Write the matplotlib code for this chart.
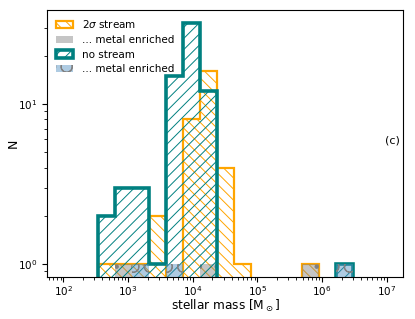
import numpy as np
import matplotlib
matplotlib.use("Agg")
import matplotlib.pyplot as plt

# bins: 19 log-spaced bins between 1e2 and 1e7 Msun
edges = np.logspace(2, 7, 20)

# counts per bin
n_stream = [0, 0, 1, 1, 1, 2, 0, 8, 16, 4, 1, 0, 0, 0, 1, 0, 0, 0, 0]
n_stream_metal = [0, 0, 0, 1, 0, 0, 0, 0, 1, 0, 0, 0, 0, 0, 1, 0, 0, 0, 0]
n_nostream = [0, 0, 2, 3, 3, 1, 15, 32, 12, 0, 0, 0, 0, 0, 0, 0, 1, 0, 0]
n_nostream_metal = [0, 0, 0, 0, 1, 0, 1, 0, 0, 0, 0, 0, 0, 0, 0, 0, 1, 0, 0]

plt.rcParams['hatch.linewidth'] = 0.7
plt.rcParams['font.size'] = 8
plt.rcParams['xtick.labelsize'] = 7.5
plt.rcParams['ytick.labelsize'] = 7.5
plt.rcParams['xtick.major.pad'] = 2

fig = plt.figure(figsize=(4.15, 3.19), dpi=100)
ax = fig.add_axes([0.114, 0.132, 0.857, 0.837])

centers = edges[:-1]

ax.hist(centers, bins=edges, weights=n_stream, histtype='stepfilled', log=True,
        facecolor='none', edgecolor='orange', lw=1.6, hatch='\\\\\\',
        label=r'2$\sigma$ stream')
ax.hist(centers, bins=edges, weights=n_stream_metal, histtype='stepfilled', log=True,
        facecolor=(0.5, 0.5, 0.5, 0.45), edgecolor='grey', lw=0, hatch='.',
        label='... metal enriched')
ax.hist(centers, bins=edges, weights=n_nostream, histtype='stepfilled', log=True,
        facecolor='none', edgecolor='teal', lw=2.6, hatch='///',
        label='no stream')
ax.hist(centers, bins=edges, weights=n_nostream_metal, histtype='stepfilled', log=True,
        facecolor=(0.3, 0.55, 0.75, 0.45), edgecolor='grey', lw=0, hatch='O',
        label='... metal enriched')

ax.set_xscale('log')
ax.set_xlim(10**1.75, 10**7.25)
ax.set_ylim(0.83, 38.7)

ax.set_xlabel(r'stellar mass [M$_\odot$]', fontsize=8.7, labelpad=0)
ax.set_ylabel('N', fontsize=9, labelpad=-1)
ax.text(0.99, 0.51, '(c)', transform=ax.transAxes, ha='right', va='center')

ax.legend(loc='upper left', frameon=False, fontsize=7.5, handlelength=1.7,
          borderaxespad=0.4, labelspacing=0.45)

fig.savefig('out.png', dpi=100)
